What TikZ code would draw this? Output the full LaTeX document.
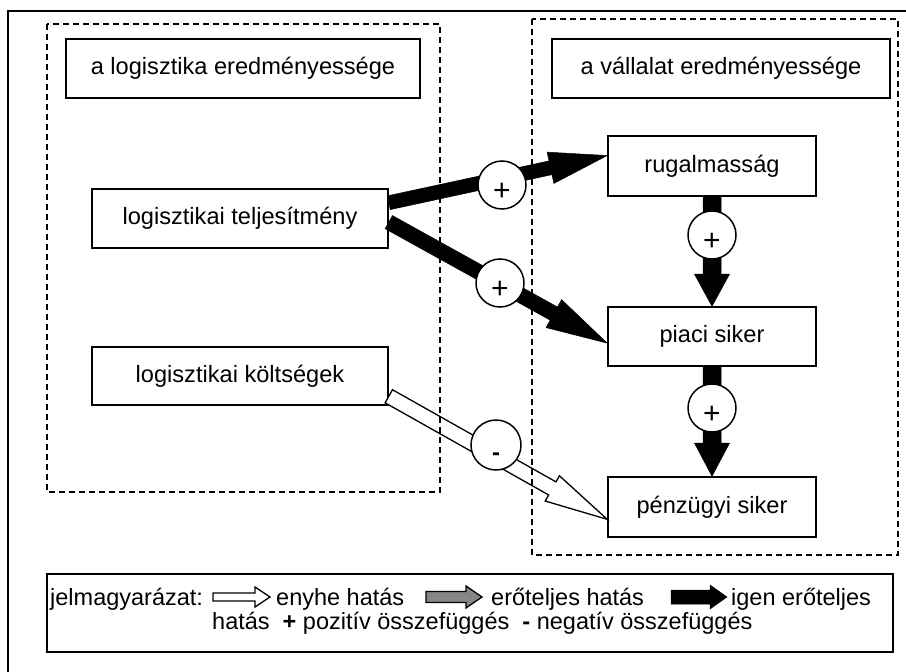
\documentclass[tikz,border=0pt]{standalone}
\usepackage{fontspec}
\setmainfont{Liberation Sans}
\usetikzlibrary{calc}
\newcommand{\blockarr}[6]{%
  \coordinate (bab) at ($(#3)!#6!(#2)$);
  \draw[#1] ($(#2)!#4!90:(#3)$) -- ($(bab)!#4!-90:(#2)$) -- ($(bab)!#5!-90:(#2)$) -- (#3)
    -- ($(bab)!#5!90:(#2)$) -- ($(bab)!#4!90:(#2)$) -- ($(#2)!#4!-90:(#3)$) -- cycle;
}
\begin{document}
\begin{tikzpicture}[x=1pt,y=-1pt,
  box/.style={draw,line width=1.6pt,minimum height=59pt,inner sep=0pt,font=\fontsize{23.6}{28}\selectfont},
  sign/.style={circle,draw,fill=white,line width=1.5pt,minimum size=48pt,inner sep=0pt,text height=30pt,text depth=0pt},
  dashbox/.style={draw,line width=1.3pt,dash pattern=on 6pt off 4pt},
  legtext/.style={anchor=base west,inner sep=0pt,font=\fontsize{23.5}{25}\selectfont},
  blackarr/.style={fill=black,draw=black,line width=0.5pt,line join=miter},
  whitearr/.style={fill=white,draw=black,line width=1.3pt,line join=miter},
  grayarr/.style={fill=gray!95,draw=black,line width=1.3pt,line join=miter}]
\useasboundingbox (0,0) rectangle (906,672);
% outer frame
\draw[line width=2.2pt] (8,672) -- (8,11) -- (906,11);
% boxes
\node[box,minimum width=354pt] (t1) at (243,68.5) {a logisztika eredményessége};
\node[box,minimum width=338pt] (t2) at (721,68.5) {a vállalat eredményessége};
\node[box,minimum width=296pt] (lt) at (240,218.5) {logisztikai teljesítmény};
\node[box,minimum width=296pt,minimum height=58pt] (lk) at (240,376) {logisztikai költségek};
\node[box,minimum width=208pt,minimum height=60pt] (rug) at (712,166) {rugalmasság};
\node[box,minimum width=208pt] (pia) at (712,336.5) {piaci siker};
\node[box,minimum width=208pt,minimum height=60pt] (pen) at (712,507) {pénzügyi siker};
% arrow ends
\coordinate (a1s) at ($(lt.north east)!0.24!(lt.south east)$);
\coordinate (a1e) at ($(rug.north west)!0.33!(rug.south west)$);
\coordinate (a2s) at ($(lt.north east)!0.56!(lt.south east)$);
\coordinate (a2e) at ($(pia.north west)!0.61!(pia.south west)$);
\coordinate (ws) at ($(lk.north east)!0.84!(lk.south east)$);
\coordinate (we) at ($(pen.north west)!0.7!(pen.south west)$);
% arrows
\blockarr{blackarr}{a1s}{a1e}{7pt}{16pt}{58pt}
\blockarr{blackarr}{a2s}{a2e}{7.5pt}{16pt}{61pt}
\blockarr{blackarr}{rug.south}{pia.north}{9pt}{17.5pt}{32pt}
\blockarr{blackarr}{pia.south}{pen.north}{9pt}{17.5pt}{33pt}
\blockarr{whitearr}{ws}{we}{7.5pt}{14.5pt}{63pt}
% dashed groups
\draw[dashbox] (47,24) rectangle (440,492);
\draw[dashbox] (532,19) rectangle (898,555);
% signs
\node[sign,font=\fontsize{30}{30}\selectfont] (c1) at (502,185) {+};
\node[sign,font=\fontsize{30}{30}\selectfont] (c2) at (500,283) {+};
\node[sign,font=\fontsize{30}{30}\selectfont] (c3) at (712,235) {+};
\node[sign,font=\fontsize{30}{30}\selectfont] (c4) at (712,408) {+};
\node[sign,minimum size=50pt,font=\fontsize{24}{24}\selectfont\bfseries] (c5) at (496,445) {-};
% legend
\node[draw,line width=1.8pt,minimum width=846pt,minimum height=78pt,inner sep=0pt] (leg) at (470,613) {};
\node[legtext] (l1) at (50,605) {jelmagyarázat:};
\node[legtext] (l2) at (276,605) {enyhe hatás};
\node[legtext] (l3) at (491,605) {erőteljes hatás};
\node[legtext] (l4) at (731,605) {igen erőteljes};
\node[legtext] (l5) at (212,629) {hatás\ \ \textbf{+} pozitív összefüggés\ \ \textbf{-} negatív összefüggés};
\coordinate (i1s) at (213,597); \coordinate (i1e) at (270,597);
\coordinate (i2s) at (426,597); \coordinate (i2e) at (482,597);
\coordinate (i3s) at (671,597); \coordinate (i3e) at (727,597);
\blockarr{whitearr}{i1s}{i1e}{4pt}{10pt}{15pt}
\blockarr{grayarr}{i2s}{i2e}{5.5pt}{11pt}{16pt}
\blockarr{blackarr}{i3s}{i3e}{7pt}{12pt}{17pt}
\end{tikzpicture}
\end{document}
